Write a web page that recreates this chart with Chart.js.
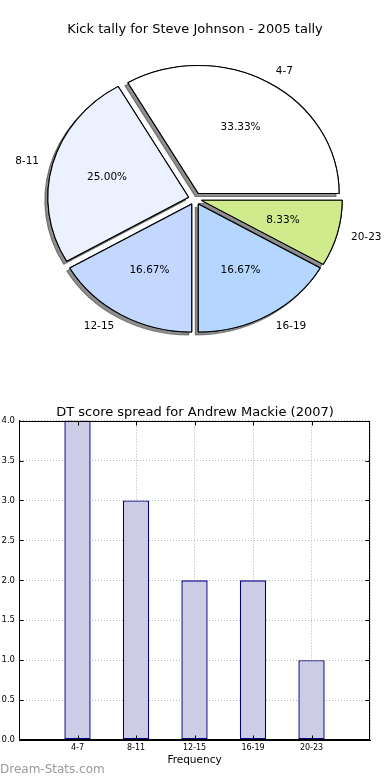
<!DOCTYPE html>
<html>
<head>
<meta charset="utf-8">
<script src="https://cdn.jsdelivr.net/npm/chart.js@4.4.0/dist/chart.umd.min.js"></script>
<style>
  html, body { margin: 0; padding: 0; background: #fff; }
  #wrap { position: relative; width: 390px; height: 780px; overflow: hidden; }
  #graficoTarta  { position: absolute; left: 0; top: 0; }
  #graficoBarras { position: absolute; left: 0; top: 390px; }
  #marca { position: absolute; left: 0; top: 762px; font: 12px "DejaVu Sans", sans-serif; color: #9a9a9a; }
</style>
</head>
<body>
<div id="wrap">
  <canvas id="graficoTarta" width="390" height="380"></canvas>
  <canvas id="graficoBarras" width="390" height="390"></canvas>
  <div id="marca">Dream-Stats.com</div>
</div>
<script>
// Pie: Steve Johnson 2005
const tartaTitulo    = 'Kick tally for Steve Johnson - 2005 tally';
const tartaEtiquetas = ['4-7', '8-11', '12-15', '16-19', '20-23'];
const tartaValores   = [4, 3, 2, 2, 1];
const tartaColores   = ['#ffffff', '#ebf1ff', '#c4d8ff', '#b4d6ff', '#d0eb8c'];

// Bars: Andrew Mackie 2007
const barrasTitulo    = 'DT score spread for Andrew Mackie (2007)';
const barrasEtiquetas = ['4-7', '8-11', '12-15', '16-19', '20-23'];
const barrasValores   = [4, 3, 2, 2, 1];
const barrasEjeX      = 'Frequency';

Chart.defaults.font.family = '"DejaVu Sans", sans-serif';
Chart.defaults.color = '#000';

const ESTIRAR_X = 1.1;  // pie is not drawn with equal aspect -> slight ellipse
const EXPLODE   = 6;
const SOMBRA    = 3;

// draw exploded slices with a drop shadow underneath, then labels
const tartaDibujo = {
    id: 'tartaDibujo',
    beforeDatasetsDraw(chart){
        const ctx  = chart.ctx;
        const arcs = chart.getDatasetMeta(0).data;
        const pintar = (sombra) => {
            arcs.forEach(arc => {
                const mid = (arc.startAngle + arc.endAngle) / 2;
                ctx.save();
                if(sombra){
                    ctx.shadowColor = 'rgba(50,50,50,0.55)';
                    ctx.shadowOffsetX = -SOMBRA;
                    ctx.shadowOffsetY = SOMBRA;
                    ctx.shadowBlur = 0;
                }
                ctx.translate(arc.x + ESTIRAR_X * EXPLODE * Math.cos(mid), arc.y + EXPLODE * Math.sin(mid));
                ctx.scale(ESTIRAR_X, 1);
                ctx.translate(-arc.x, -arc.y);
                arc.draw(ctx);
                ctx.restore();
            });
        };
        pintar(true);
        pintar(false);

        const total = tartaValores.reduce((a, b) => a + b, 0);
        const valores = chart.data.datasets[0].data;
        ctx.save();
        ctx.fillStyle = '#000';
        ctx.font = '10.5px "DejaVu Sans", sans-serif';
        ctx.textBaseline = 'middle';
        arcs.forEach((arc, i) => {
            const mid = (arc.startAngle + arc.endAngle) / 2;
            const c = Math.cos(mid), s = Math.sin(mid);
            const R = arc.outerRadius;
            const ox = arc.x + ESTIRAR_X * EXPLODE * c;
            const oy = arc.y + EXPLODE * s;
            ctx.textAlign = c > 0 ? 'left' : 'right';
            ctx.fillText(chart.data.labels[i], ox + ESTIRAR_X * 1.1 * R * c, oy + 1.1 * R * s);
            ctx.textAlign = 'center';
            ctx.fillText((valores[i] / total * 100).toFixed(2) + '%', ox + ESTIRAR_X * 0.6 * R * c, oy + 0.6 * R * s);
        });
        ctx.restore();
        return false;
    }
};

// Chart.js goes clockwise, matplotlib counter-clockwise: reverse the order
const orden = tartaEtiquetas.map((_, i) => i).reverse();

new Chart(document.getElementById('graficoTarta'), {
    type: 'pie',
    data: {
        labels: orden.map(i => tartaEtiquetas[i]),
        datasets: [{
            data: orden.map(i => tartaValores[i]),
            backgroundColor: orden.map(i => tartaColores[i]),
            borderColor: '#000',
            borderWidth: 1
        }]
    },
    options: {
        responsive: false,
        animation: false,
        rotation: 90,
        radius: 128,
        layout: { padding: { bottom: 20 } },
        plugins: {
            legend:  { display: false },
            tooltip: { enabled: false },
            title: {
                display: true,
                text: tartaTitulo,
                color: '#000',
                font: { size: 13, weight: 'normal' },
                padding: { top: 22, bottom: 0 }
            }
        }
    },
    plugins: [tartaDibujo]
});

// black frame round the plot area plus matplotlib-style inward ticks
const marcoEjes = {
    id: 'marcoEjes',
    afterDraw(chart){
        const {ctx, chartArea: a, scales} = chart;
        const L = Math.round(a.left) + 0.5, R = Math.round(a.right) - 0.5;
        const T = Math.round(a.top) + 0.5,  B = Math.round(a.bottom) - 0.5;
        ctx.save();
        ctx.strokeStyle = '#000';
        ctx.lineWidth = 1;
        ctx.beginPath();
        scales.y.ticks.forEach(t => {
            const y = Math.round(scales.y.getPixelForValue(t.value)) + 0.5;
            ctx.moveTo(L, y); ctx.lineTo(L + 4, y);
            ctx.moveTo(R, y); ctx.lineTo(R - 4, y);
        });
        barrasEtiquetas.forEach((_, i) => {
            const x = Math.round(scales.x.getPixelForValue(i)) + 0.5;
            ctx.moveTo(x, B); ctx.lineTo(x, B - 4);
            ctx.moveTo(x, T); ctx.lineTo(x, T + 4);
        });
        ctx.stroke();
        ctx.strokeRect(L, T, R - L, B - T);
        ctx.restore();
    }
};

const rejilla = { color: '#b4b4b4', drawTicks: false, offset: false };
const bordeEje = { color: '#000', dash: [1, 2] };

new Chart(document.getElementById('graficoBarras'), {
    type: 'bar',
    data: {
        datasets: [{
            data: barrasValores.map((v, i) => ({ x: i, y: v })),
            backgroundColor: '#cccce6',
            borderColor: '#00007f',
            borderWidth: 1.4,
            borderSkipped: false,
            barPercentage: 0.45,
            categoryPercentage: 1
        }]
    },
    options: {
        responsive: false,
        animation: false,
        plugins: {
            legend:  { display: false },
            tooltip: { enabled: false },
            title: {
                display: true,
                text: barrasTitulo,
                color: '#000',
                font: { size: 13, weight: 'normal' },
                padding: { top: 15, bottom: 0 }
            }
        },
        scales: {
            x: {
                type: 'linear',
                min: -1, max: 5,
                offset: false,
                z: 1,
                grid: rejilla,
                border: bordeEje,
                ticks: {
                    stepSize: 1,
                    padding: 3,
                    maxRotation: 0,
                    font: { size: 8 },
                    callback: v => barrasEtiquetas[v] || ''
                },
                title: {
                    display: true,
                    text: barrasEjeX,
                    font: { size: 10.5 },
                    padding: { top: 0, bottom: 13 }
                },
                afterFit(s){ s.height = 40; }
            },
            y: {
                min: 0, max: 4,
                z: 1,
                grid: rejilla,
                border: bordeEje,
                ticks: {
                    stepSize: 0.5,
                    padding: 4,
                    font: { size: 8.5 },
                    callback: v => v.toFixed(1)
                },
                afterFit(s){ s.width = 19; }
            },
            // empty right-hand strip so the plot ends at the same place as the original
            derecha: {
                type: 'linear',
                position: 'right',
                grid: { display: false },
                border: { display: false },
                ticks: { display: false },
                afterFit(s){ s.width = 20; }
            }
        }
    },
    plugins: [marcoEjes]
});
</script>
</body>
</html>
